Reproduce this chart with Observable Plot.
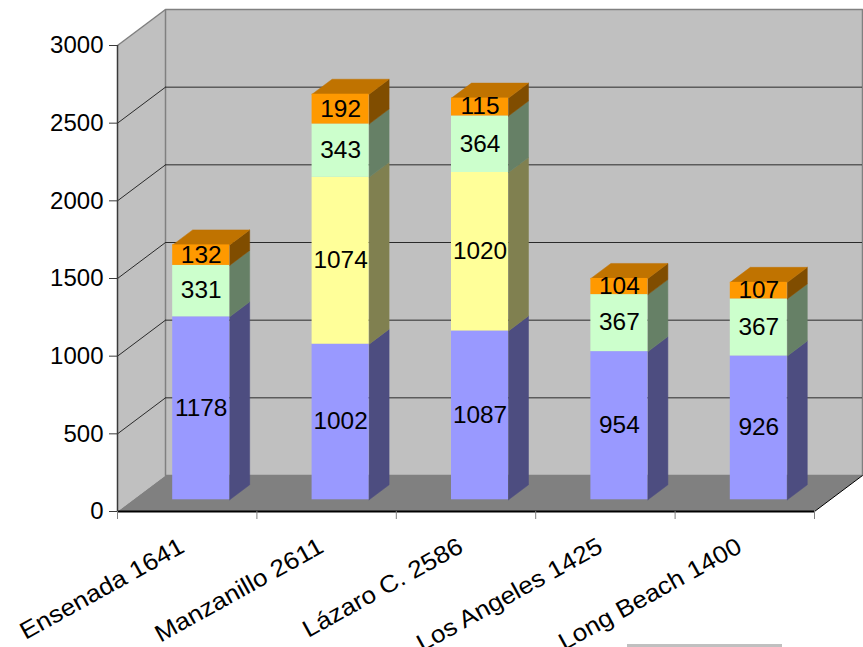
<!DOCTYPE html>
<html>
<head>
<meta charset="utf-8">
<script src="https://cdn.jsdelivr.net/npm/d3@7"></script>
<script src="https://cdn.jsdelivr.net/npm/@observablehq/plot@0.6"></script>
<style>
  body { margin: 0; background: #fff; }
  #chart { position: relative; width: 863px; height: 647px; overflow: hidden; }
  #legend-top { position: absolute; left: 627px; top: 644px; width: 155px; height: 3px; background: #c0c0c0; }
</style>
</head>
<body>
<div id="chart"><div id="legend-top"></div></div>
<script>
// Port traffic by terminal, stacked in four tiers
const categories = ["Ensenada 1641", "Manzanillo 2611", "Lázaro C. 2586", "Los Angeles 1425", "Long Beach 1400"];
const tierBlue   = [1178, 1002, 1087, 954, 926];
const tierYellow = [0, 1074, 1020, 0, 0];
const tierGreen  = [331, 343, 364, 367, 367];
const tierOrange = [132, 192, 115, 104, 107];
const yTicks = [0, 500, 1000, 1500, 2000, 2500, 3000];

const tiers = [
  {values: tierBlue,   front: "#9999ff", side: "#4d4d80", top: "#7373bf"},
  {values: tierYellow, front: "#ffff99", side: "#808050", top: "#bfbf73"},
  {values: tierGreen,  front: "#ccffcc", side: "#668066", top: "#99bf99"},
  {values: tierOrange, front: "#ff9900", side: "#804d00", top: "#c07300"}
];

// Layout (pixels)
const W = 863, H = 647;
const M = {left: 117, right: 49, top: 45, bottom: 136};
const yMax = 3000, nCat = categories.length;
const KX = (W - M.left - M.right) / nCat;      // px per category
const KY = (H - M.top - M.bottom) / yMax;      // px per unit
const WALL_DX = 48, WALL_DY = 36;              // depth of the box
const FRONT_DX = 14, FRONT_DY = 11.7;          // bar front face offset into the box
const BAR_DX = 20, BAR_DY = 15;                // bar depth
const BAR_W = 57 / KX;                         // bar width in category units

const dX = WALL_DX / KX, dY = WALL_DY / KY;
const bX = BAR_DX / KX, bY = BAR_DY / KY;

// Stacked segments
const segments = [];
const tops = [];
categories.forEach((c, i) => {
  let base = 0, last = null;
  tiers.forEach((t, k) => {
    const v = t.values[i];
    if (v > 0) {
      last = {i, k, v, y1: base, y2: base + v, front: t.front, side: t.side, top: t.top};
      segments.push(last);
      base += v;
    }
  });
  tops.push(last);
});

// Polygon helpers (closed vertex lists, grouped by id)
function poly(id, pts, fill) {
  return [...pts, pts[0]].map(([x, y]) => ({id, x, y, fill}));
}

const sides = segments.flatMap((s, n) => {
  const xr = s.i + 0.5 + BAR_W / 2;
  return poly("s" + n, [[xr, s.y1], [xr + bX, s.y1 + bY], [xr + bX, s.y2 + bY], [xr, s.y2]], s.side);
});
const lids = tops.flatMap((s, n) => {
  const xl = s.i + 0.5 - BAR_W / 2, xr = s.i + 0.5 + BAR_W / 2;
  return poly("t" + n, [[xl, s.y2], [xr, s.y2], [xr + bX, s.y2 + bY], [xl + bX, s.y2 + bY]], s.top);
});

const leftWall = poly("lw", [[0, 0], [dX, dY], [dX, yMax + dY], [0, yMax]], "#c0c0c0");
const backWall = poly("bw", [[dX, dY], [nCat + dX, dY], [nCat + dX, yMax + dY], [dX, yMax + dY]], "#c0c0c0");
const floor = poly("fl", [[0, 0], [nCat, 0], [nCat + dX, dY], [dX, dY]], "#808080");

const gridVals = yTicks.filter(v => v > 0 && v < yMax);

const chart = Plot.plot({
  width: W, height: H,
  marginLeft: M.left, marginRight: M.right, marginTop: M.top, marginBottom: M.bottom,
  style: {fontFamily: "'Liberation Sans', Arial, sans-serif", background: "transparent", color: "#000", overflow: "visible"},
  x: {domain: [0, nCat]},
  y: {domain: [0, yMax]},
  color: {type: "identity"},
  marks: [
    // walls
    Plot.line(leftWall, {x: "x", y: "y", z: "id", fill: "fill", stroke: null}),
    Plot.line(backWall, {x: "x", y: "y", z: "id", fill: "fill", stroke: "#808080", strokeWidth: 1.5}),
    Plot.link([yMax], {x1: 0, y1: d => d, x2: dX, y2: d => d + dY, stroke: "#808080", strokeWidth: 1.5}),
    // gridlines on the left and back walls
    Plot.link(gridVals, {x1: 0, y1: d => d, x2: dX, y2: d => d + dY, stroke: "#2a2a2a", strokeWidth: 1}),
    Plot.ruleY(gridVals, {y: d => d + dY, x1: dX, x2: nCat + dX, stroke: "#2a2a2a", strokeWidth: 1}),
    // floor
    Plot.line(floor, {x: "x", y: "y", z: "id", fill: "fill", stroke: null}),
    Plot.link([0], {x1: nCat, y1: 0, x2: nCat + dX, y2: dY, stroke: "#000", strokeWidth: 1}),
    // bars: side faces, lids, front faces
    Plot.line(sides, {x: "x", y: "y", z: "id", fill: "fill", stroke: "fill", strokeWidth: 0.5, dx: FRONT_DX, dy: -FRONT_DY}),
    Plot.line(lids, {x: "x", y: "y", z: "id", fill: "fill", stroke: "fill", strokeWidth: 0.5, dx: FRONT_DX, dy: -FRONT_DY}),
    Plot.rect(segments, {
      x1: d => d.i + 0.5 - BAR_W / 2, x2: d => d.i + 0.5 + BAR_W / 2,
      y1: "y1", y2: "y2", fill: "front", dx: FRONT_DX, dy: -FRONT_DY
    }),
    Plot.text(segments, {
      x: d => d.i + 0.5, y: d => (d.y1 + d.y2) / 2, text: d => String(d.v),
      fontSize: 23, fill: "#000", dx: FRONT_DX, dy: -FRONT_DY
    }),
    // axes
    Plot.ruleY([0], {x1: 0, x2: nCat, stroke: "#000", strokeWidth: 2}),
    Plot.ruleX([0], {y1: 0, y2: yMax, stroke: "#3a3a3a", strokeWidth: 1.5}),
    Plot.axisY({ticks: yTicks, tickSize: 8, tickPadding: 6, fontSize: 24, stroke: "#3a3a3a", label: null, tickFormat: d => String(d)}),
    Plot.axisX({ticks: d3.range(nCat + 1), tickSize: 8, tickFormat: () => "", stroke: "#808080", label: null}),
    Plot.text(categories, {
      x: (d, i) => i + 0.5, y: () => 0, text: d => d,
      rotate: -29, textAnchor: "end", lineAnchor: "middle",
      fontSize: 24, fill: "#000", dx: -5, dy: 33
    })
  ]
});

document.getElementById("chart").prepend(chart);

// Widen the glyphs slightly, as in the original typesetting
function widen(nodes, k) {
  nodes.forEach(el => {
    const len = el.getComputedTextLength();
    if (len > 0) {
      el.setAttribute("textLength", (len * k).toFixed(1));
      el.setAttribute("lengthAdjust", "spacingAndGlyphs");
    }
  });
}
const textGroups = chart.querySelectorAll('g[aria-label="text"]');
if (textGroups[0]) widen([...textGroups[0].querySelectorAll("text")], 1.06);
if (textGroups[1]) widen([...textGroups[1].querySelectorAll("text")], 1.09);
</script>
</body>
</html>
